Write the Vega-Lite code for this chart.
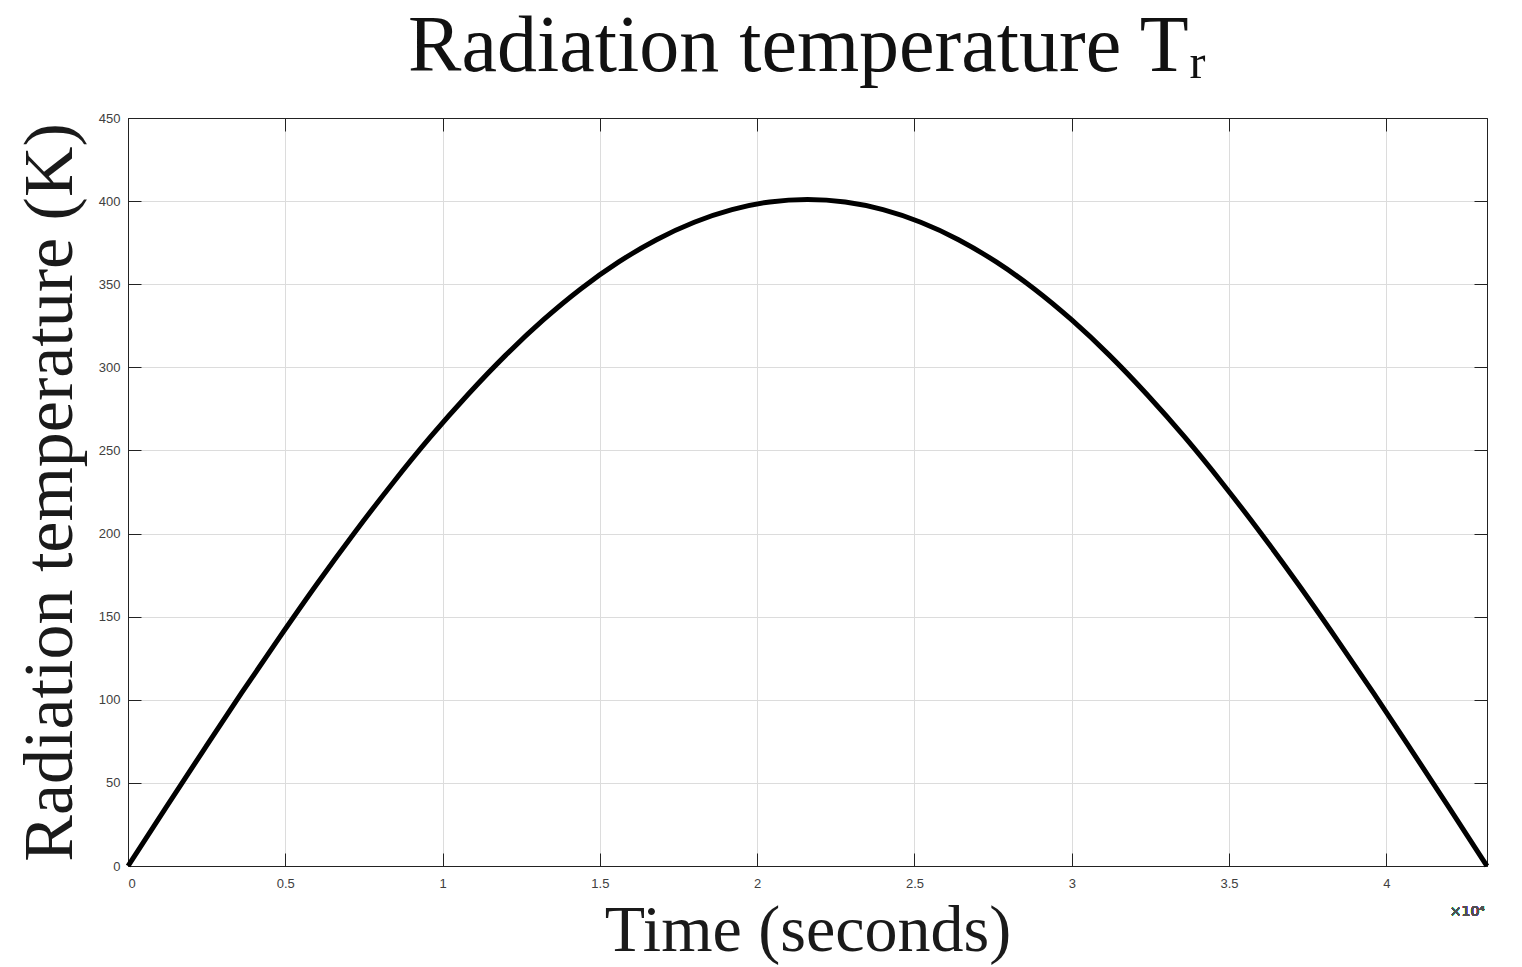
{
  "$schema": "https://vega.github.io/schema/vega-lite/v6.json",
  "autosize": "none",
  "width": 1359,
  "height": 748,
  "padding": {"left": 128, "top": 118, "right": 35, "bottom": 101},
  "background": "white",
  "config": {
    "view": {"stroke": "#222", "strokeWidth": 1},
    "axis": {
      "labelFont": "Liberation Sans",
      "labelFontSize": 13,
      "labelColor": "#404040",
      "domainColor": "#222",
      "tickColor": "#222",
      "gridColor": "#dcdcdc",
      "gridOpacity": 1,
      "titleFont": "Liberation Serif",
      "titleFontWeight": "normal",
      "titleColor": "#1a1a1a"
    }
  },
  "title": {
    "text": "Radiation temperature Tᵣ",
    "font": "Liberation Serif",
    "fontSize": 80,
    "fontWeight": "normal",
    "color": "#111",
    "anchor": "middle",
    "offset": 24
  },
  "data": {"values": [
    {"t": 0, "T": 0},
    {"t": 1200, "T": 35.0},
    {"t": 2400, "T": 69.6},
    {"t": 3600, "T": 103.8},
    {"t": 4800, "T": 137.1},
    {"t": 6000, "T": 169.5},
    {"t": 7200, "T": 200.5},
    {"t": 8400, "T": 230.0},
    {"t": 9600, "T": 257.8},
    {"t": 10800, "T": 283.5},
    {"t": 12000, "T": 307.2},
    {"t": 13200, "T": 328.5},
    {"t": 14400, "T": 347.3},
    {"t": 15600, "T": 363.4},
    {"t": 16800, "T": 376.8},
    {"t": 18000, "T": 387.3},
    {"t": 19200, "T": 394.9},
    {"t": 20400, "T": 399.5},
    {"t": 21600, "T": 401.0},
    {"t": 22800, "T": 399.5},
    {"t": 24000, "T": 394.9},
    {"t": 25200, "T": 387.3},
    {"t": 26400, "T": 376.8},
    {"t": 27600, "T": 363.4},
    {"t": 28800, "T": 347.3},
    {"t": 30000, "T": 328.5},
    {"t": 31200, "T": 307.2},
    {"t": 32400, "T": 283.5},
    {"t": 33600, "T": 257.8},
    {"t": 34800, "T": 230.0},
    {"t": 36000, "T": 200.5},
    {"t": 37200, "T": 169.5},
    {"t": 38400, "T": 137.1},
    {"t": 39600, "T": 103.8},
    {"t": 40800, "T": 69.6},
    {"t": 42000, "T": 35.0},
    {"t": 43200, "T": 0}
  ]},
  "layer": [
    {
      "mark": {"type": "line", "color": "#000", "strokeWidth": 5, "interpolate": "monotone", "clip": false},
      "encoding": {
        "x": {
          "field": "t", "type": "quantitative",
          "scale": {"domain": [0, 43200], "nice": false, "zero": false},
          "axis": {
            "orient": "bottom",
            "values": [0, 5000, 10000, 15000, 20000, 25000, 30000, 35000, 40000],
            "labelExpr": "datum.value / 10000",
            "tickSize": -13,
            "labelPadding": 24,
            "grid": true,
            "title": "Time (seconds)",
            "titleFontSize": 66,
            "titlePadding": 8
          }
        },
        "y": {
          "field": "T", "type": "quantitative",
          "scale": {"domain": [0, 450], "nice": false},
          "axis": {
            "orient": "left",
            "values": [0, 50, 100, 150, 200, 250, 300, 350, 400, 450],
            "tickSize": -13,
            "labelPadding": 21,
            "grid": true,
            "title": "Radiation temperature (K)",
            "titleFontSize": 70,
            "titlePadding": 12
          }
        }
      }
    },
    {
      "mark": {"type": "line", "opacity": 0},
      "encoding": {
        "x": {
          "field": "t", "type": "quantitative",
          "axis": {
            "orient": "top",
            "values": [0, 5000, 10000, 15000, 20000, 25000, 30000, 35000, 40000],
            "labels": false, "tickSize": -13, "grid": false, "title": null
          }
        },
        "y": {
          "field": "T", "type": "quantitative",
          "axis": {
            "orient": "right",
            "values": [0, 50, 100, 150, 200, 250, 300, 350, 400, 450],
            "labels": false, "tickSize": -13, "grid": false, "title": null
          }
        }
      }
    },
    {
      "mark": {"type": "text", "text": "×10⁴", "font": "DejaVu Sans", "fontSize": 14, "color": "#505050", "align": "right", "baseline": "middle", "dx": -2, "dy": 46},
      "encoding": {
        "x": {"datum": 43200, "type": "quantitative", "axis": null},
        "y": {"datum": 0, "type": "quantitative", "axis": null}
      }
    }
  ],
  "resolve": {"axis": {"x": "independent", "y": "independent"}}
}
